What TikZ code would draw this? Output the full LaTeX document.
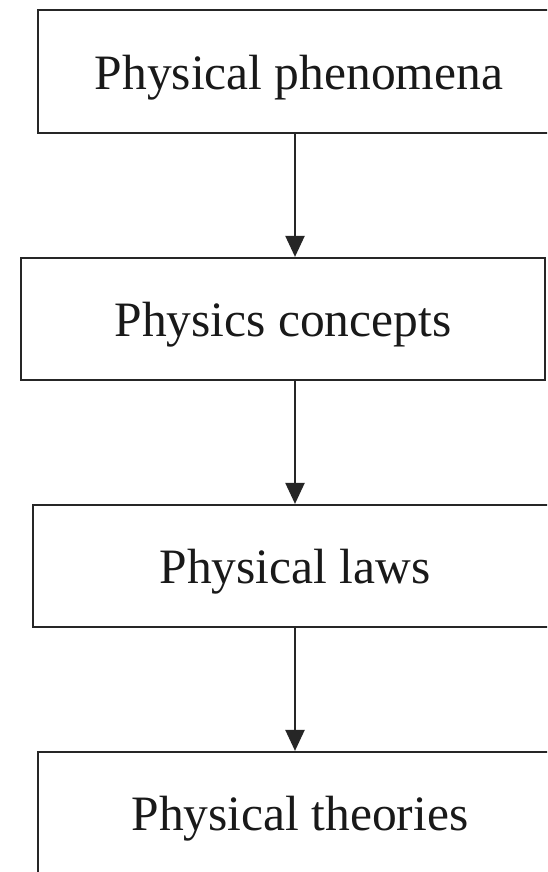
\documentclass[tikz,border=0pt]{standalone}
\usepackage{fontspec}
\setmainfont{Liberation Serif}
\usetikzlibrary{arrows.meta}
\newcommand{\lowtxt}[1]{\raisebox{-6pt}[\height][\depth]{#1}}
\begin{document}
\begin{tikzpicture}[x=1pt,y=1pt,
  box/.style={draw=black!85, line width=2.2pt, rectangle, inner sep=0pt, font=\fontsize{49.5}{56}\selectfont, text=black!90},
  arr/.style={draw=black!85, line width=2.2pt, -{Triangle[length=21pt,width=19pt]}}]
\useasboundingbox (0,0) rectangle (547,-872);
\clip (0,0) rectangle (547,-872);
\fill[white] (0,0) rectangle (547,-872);
\node[box, minimum width=522pt, minimum height=123pt] (b1) at (299,-71.5) {\lowtxt{Physical phenomena}};
\node[box, minimum width=524pt, minimum height=122pt] (b2) at (283,-319) {\lowtxt{Physics concepts}};
\node[box, minimum width=524pt, minimum height=122pt] (b3) at (295,-566) {\lowtxt{Physical laws}};
\node[box, minimum width=524pt, minimum height=122pt] (b4) at (300,-813) {\lowtxt{Physical theories}};
\coordinate (ax) at (295,0);
\draw[arr] (b1.south -| ax) -- (b2.north -| ax);
\draw[arr] (b2.south -| ax) -- (b3.north -| ax);
\draw[arr] (b3.south -| ax) -- (b4.north -| ax);
\end{tikzpicture}
\end{document}
